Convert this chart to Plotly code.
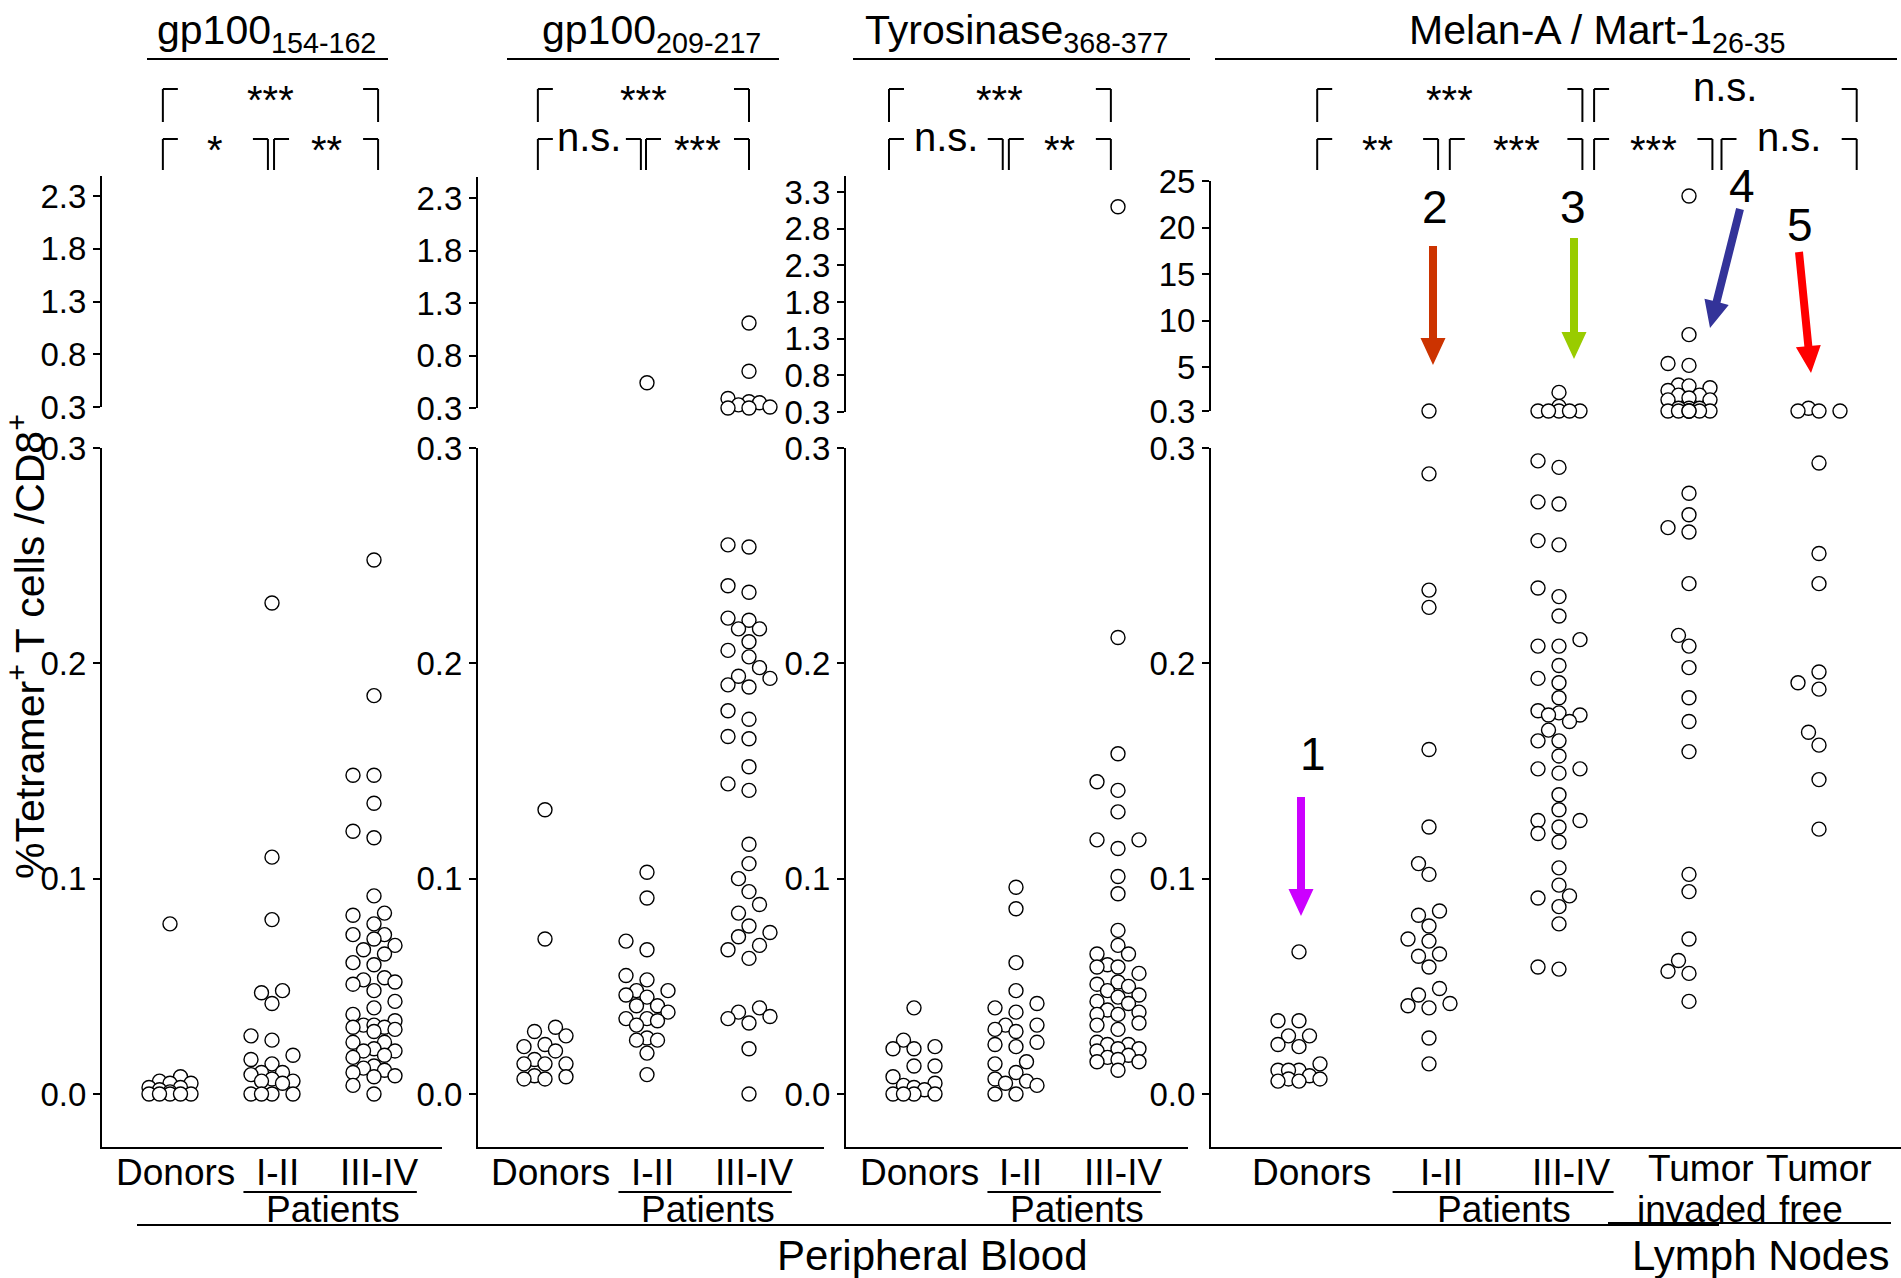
import math
import plotly.graph_objects as go

W, H = 1901, 1278
FONT = "Liberation Sans, Arial, sans-serif"

# ---------------- data (percent tetramer+ of CD8+) ----------------
pb_categories = ["Donors", "I-II", "III-IV"]
ln_categories = ["Donors", "I-II", "III-IV", "Tumor", "Tumor"]
ln_categories_2 = ["", "", "", "invaded", "free"]

# gp100 154-162
gp154_donors_low = [0.079, 0.008, 0.006, 0.005, 0.005, 0.003, 0.003, 0.002, 0.001, 0.0, 0.0, 0.0, 0.0, 0.0]
gp154_i_ii_low = [0.228, 0.110, 0.081, 0.048, 0.047, 0.042, 0.027, 0.025, 0.018, 0.016, 0.014, 0.010,
                  0.010, 0.009, 0.007, 0.006, 0.006, 0.005, 0.0, 0.0, 0.0, 0.0]
gp154_iii_iv_low = [0.248, 0.185, 0.148, 0.148, 0.135, 0.122, 0.119, 0.092, 0.084, 0.083, 0.079, 0.074,
                    0.074, 0.072, 0.069, 0.067, 0.065, 0.061, 0.060, 0.054, 0.053, 0.052, 0.051, 0.048,
                    0.043, 0.040, 0.037, 0.034, 0.032, 0.032, 0.031, 0.031, 0.030, 0.029, 0.024, 0.024,
                    0.021, 0.020, 0.020, 0.018, 0.017, 0.013, 0.012, 0.011, 0.010, 0.0085, 0.008, 0.004, 0.0]

# gp100 209-217
gp209_donors_low = [0.132, 0.072, 0.031, 0.029, 0.027, 0.023, 0.022, 0.020, 0.016, 0.014, 0.014, 0.014,
                    0.0085, 0.008, 0.007, 0.007]
gp209_i_ii_low = [0.103, 0.091, 0.071, 0.067, 0.055, 0.053, 0.048, 0.048, 0.046, 0.045, 0.041, 0.041,
                  0.038, 0.035, 0.035, 0.034, 0.032, 0.026, 0.025, 0.025, 0.019, 0.009]
gp209_i_ii_high = [0.54]
gp209_iii_iv_low = [0.255, 0.254, 0.236, 0.233, 0.221, 0.220, 0.216, 0.216, 0.210, 0.206, 0.203, 0.198,
                    0.194, 0.193, 0.190, 0.189, 0.178, 0.174, 0.166, 0.165, 0.152, 0.144, 0.141, 0.116,
                    0.107, 0.100, 0.094, 0.088, 0.084, 0.078, 0.075, 0.073, 0.069, 0.067, 0.063, 0.040,
                    0.038, 0.036, 0.035, 0.033, 0.021, 0.0]
gp209_iii_iv_high = [1.11, 0.65, 0.39, 0.36, 0.35, 0.33, 0.31, 0.30, 0.30]

# Tyrosinase 368-377
tyr_donors_low = [0.040, 0.025, 0.022, 0.021, 0.021, 0.013, 0.013, 0.008, 0.005, 0.004, 0.003, 0.002,
                  0.0, 0.0, 0.0, 0.0]
tyr_i_ii_low = [0.096, 0.086, 0.061, 0.048, 0.042, 0.040, 0.038, 0.032, 0.032, 0.030, 0.029, 0.024,
                0.023, 0.022, 0.015, 0.014, 0.010, 0.007, 0.006, 0.005, 0.004, 0.0, 0.0]
tyr_iii_iv_low = [0.212, 0.158, 0.145, 0.141, 0.131, 0.118, 0.118, 0.114, 0.101, 0.093, 0.076, 0.069,
                  0.065, 0.065, 0.060, 0.059, 0.059, 0.056, 0.052, 0.051, 0.050, 0.048, 0.046, 0.045,
                  0.043, 0.042, 0.039, 0.038, 0.037, 0.037, 0.033, 0.032, 0.030, 0.024, 0.023, 0.023,
                  0.021, 0.021, 0.020, 0.018, 0.017, 0.016, 0.015, 0.015, 0.011]
tyr_iii_iv_high = [3.10]

# Melan-A / Mart-1 26-35
mel_donors_low = [0.066, 0.034, 0.034, 0.027, 0.027, 0.023, 0.022, 0.014, 0.011, 0.011, 0.011, 0.0085,
                  0.007, 0.007, 0.006, 0.006]
mel_i_ii_low = [0.288, 0.234, 0.226, 0.160, 0.124, 0.107, 0.102, 0.085, 0.083, 0.078, 0.072, 0.071,
                0.065, 0.064, 0.059, 0.049, 0.046, 0.042, 0.041, 0.040, 0.026, 0.014]
mel_i_ii_high = [0.3]
mel_iii_iv_low = [0.294, 0.291, 0.275, 0.274, 0.257, 0.255, 0.235, 0.231, 0.222, 0.211, 0.208, 0.208,
                  0.199, 0.193, 0.191, 0.184, 0.178, 0.177, 0.176, 0.176, 0.173, 0.169, 0.164, 0.164,
                  0.157, 0.151, 0.151, 0.149, 0.139, 0.132, 0.127, 0.127, 0.124, 0.121, 0.117, 0.105,
                  0.097, 0.092, 0.091, 0.087, 0.079, 0.059, 0.058]
mel_iii_iv_high = [2.3, 0.8, 0.3, 0.3, 0.3, 0.3, 0.3]
mel_ln_invaded_low = [0.279, 0.269, 0.263, 0.261, 0.237, 0.213, 0.208, 0.198, 0.184, 0.173, 0.159,
                      0.102, 0.094, 0.072, 0.062, 0.057, 0.056, 0.043]
mel_ln_invaded_high = [23.4, 8.5, 5.4, 5.2, 3.1, 3.0, 2.8, 2.5, 2.0, 2.0, 1.7, 1.5, 1.5, 0.6, 0.6, 0.6,
                       0.3, 0.3, 0.3, 0.3, 0.3, 0.3, 0.3]
mel_ln_free_low = [0.293, 0.251, 0.237, 0.196, 0.191, 0.188, 0.168, 0.162, 0.146, 0.123]
mel_ln_free_high = [0.6, 0.3, 0.3, 0.3]

low_ticks = [0.0, 0.1, 0.2, 0.3]
low_ticktext = ["0.0", "0.1", "0.2", "0.3"]
gp_high_ticks = [0.3, 0.8, 1.3, 1.8, 2.3]
tyr_high_ticks = [0.3, 0.8, 1.3, 1.8, 2.3, 2.8, 3.3]
mel_high_ticks = [0.3, 5, 10, 15, 20, 25]
mel_high_ticktext = ["0.3", "5", "10", "15", "20", "25"]

# ---------------- layout geometry (pixels) ----------------
LOW_TOP, LOW_ZERO, LOW_BOTTOM = 448, 1094, 1147
LOW_K = (LOW_ZERO - LOW_TOP) / 0.3

panels = [
    dict(title="gp100<sub>154-162</sub>", title_x=266, tline=(147, 388),
         axis=102, right=442, cat0=170, S=102,
         up0=407, upk=105.5, uptop=176,
         uticks=gp_high_ticks, utext=[f"{v:.1f}" for v in gp_high_ticks],
         cats=pb_categories, cats2=None,
         groups=[(gp154_donors_low, []), (gp154_i_ii_low, []), (gp154_iii_iv_low, [])],
         brackets=[(-0.07, 2.04, 0, "***"), (-0.07, 0.96, 1, "*"), (1.02, 2.04, 1, "**")]),
    dict(title="gp100<sub>209-217</sub>", title_x=651, tline=(507, 779),
         axis=478, right=824, cat0=545, S=102,
         up0=408, upk=105.0, uptop=177,
         uticks=gp_high_ticks, utext=[f"{v:.1f}" for v in gp_high_ticks],
         cats=pb_categories, cats2=None,
         groups=[(gp209_donors_low, []), (gp209_i_ii_low, gp209_i_ii_high),
                 (gp209_iii_iv_low, gp209_iii_iv_high)],
         brackets=[(-0.07, 2.0, 0, "***"), (-0.07, 0.94, 1, "n.s."), (0.99, 2.0, 1, "***")]),
    dict(title="Tyrosinase<sub>368-377</sub>", title_x=1017, tline=(853, 1190),
         axis=846, right=1188, cat0=914, S=102,
         up0=412, upk=73.3, uptop=176,
         uticks=tyr_high_ticks, utext=[f"{v:.1f}" for v in tyr_high_ticks],
         cats=pb_categories, cats2=None,
         groups=[(tyr_donors_low, []), (tyr_i_ii_low, []), (tyr_iii_iv_low, tyr_iii_iv_high)],
         brackets=[(-0.245, 1.93, 0, "***"), (-0.245, 0.87, 1, "n.s."), (0.93, 1.93, 1, "**")]),
    dict(title="Melan-A / Mart-1<sub>26-35</sub>", title_x=1597, tline=(1215, 1897),
         axis=1211, right=1901, cat0=1299, S=130,
         up0=411, upk=9.31, uptop=181,
         uticks=mel_high_ticks, utext=mel_high_ticktext,
         cats=ln_categories, cats2=ln_categories_2,
         groups=[(mel_donors_low, []), (mel_i_ii_low, mel_i_ii_high), (mel_iii_iv_low, mel_iii_iv_high),
                 (mel_ln_invaded_low, mel_ln_invaded_high), (mel_ln_free_low, mel_ln_free_high)],
         brackets=[(0.14, 2.18, 0, "***"), (2.27, 4.29, 0, "n.s."),
                   (0.14, 1.07, 1, "**"), (1.16, 2.18, 1, "***"),
                   (2.27, 3.18, 1, "***"), (3.25, 4.29, 1, "n.s.")]),
]


def fx(x):
    return x / W


def fy(y):
    return 1 - y / H


def swarm(values, ypx_per_unit, D=14.5, step=10.5, maxk=2):
    """Greedy beeswarm: returns horizontal pixel offsets."""
    order = sorted(range(len(values)), key=lambda i: values[i])
    cands = [0.0]
    for k in range(1, maxk + 1):
        cands += [-k * step, k * step]
    placed = []
    offs = [0.0] * len(values)
    for i in order:
        yv = values[i] * ypx_per_unit
        best, bestd = 0.0, -1
        for c in cands:
            dmin = min((math.hypot(c - a, yv - b) for a, b in placed), default=1e9)
            if dmin >= 0.95 * D:
                best = c
                break
            if dmin > bestd:
                bestd, best = dmin, c
        placed.append((best, yv))
        offs[i] = best
    return offs


fig = go.Figure()
shapes = []
annotations = []
layout_axes = {}
marker = dict(symbol="circle", size=14, color="white", line=dict(color="black", width=1.4))
axis_line = dict(showline=True, linecolor="black", linewidth=2, showgrid=False, zeroline=False,
                 fixedrange=True, automargin=False)
TICKFONT = dict(family=FONT, size=33, color="black")

for p, cfg in enumerate(panels):
    lo, up = 2 * p + 1, 2 * p + 2
    xl = "x" if lo == 1 else f"x{lo}"
    yl = "y" if lo == 1 else f"y{lo}"
    xu, yu = f"x{up}", f"y{up}"
    S, cat0 = cfg["S"], cfg["cat0"]
    xr = [(cfg["axis"] - cat0) / S, (cfg["right"] - cat0) / S]
    xdom = [fx(cfg["axis"]), fx(cfg["right"])]
    low_range = [-(LOW_BOTTOM - LOW_ZERO) / LOW_K, 0.3]
    up_range = [0.3, 0.3 + (cfg["up0"] - cfg["uptop"]) / cfg["upk"]]

    has_high = False
    for ci, (lowv, highv) in enumerate(cfg["groups"]):
        if lowv:
            offs = swarm(lowv, LOW_K)
            fig.add_trace(go.Scatter(x=[ci + o / S for o in offs], y=lowv, mode="markers",
                                     marker=marker, xaxis=xl, yaxis=yl, cliponaxis=False,
                                     showlegend=False, hoverinfo="y"))
        if highv:
            has_high = True
            offs = swarm(highv, cfg["upk"])
            fig.add_trace(go.Scatter(x=[ci + o / S for o in offs], y=highv, mode="markers",
                                     marker=marker, xaxis=xu, yaxis=yu, cliponaxis=False,
                                     showlegend=False, hoverinfo="y"))
    if not has_high:
        # empty trace so that the (empty) upper axis is still drawn
        fig.add_trace(go.Scatter(x=[None], y=[None], mode="markers", xaxis=xu, yaxis=yu,
                                 showlegend=False, hoverinfo="skip"))

    kx = "xaxis" if lo == 1 else f"xaxis{lo}"
    ky = "yaxis" if lo == 1 else f"yaxis{lo}"
    layout_axes[kx] = dict(axis_line, domain=xdom, range=xr, anchor=yl, showticklabels=False, ticks="")
    layout_axes[ky] = dict(axis_line, domain=[fy(LOW_BOTTOM), fy(LOW_TOP)], range=low_range, anchor=xl,
                           ticks="outside", ticklen=7, tickwidth=2, tickcolor="black",
                           tickvals=low_ticks, ticktext=low_ticktext, tickfont=TICKFONT)
    layout_axes[f"xaxis{up}"] = dict(domain=xdom, range=xr, anchor=yu, visible=False, fixedrange=True,
                                     automargin=False)
    layout_axes[f"yaxis{up}"] = dict(axis_line, domain=[fy(cfg["up0"]), fy(cfg["uptop"])], range=up_range,
                                     anchor=xu, ticks="outside", ticklen=7, tickwidth=2, tickcolor="black",
                                     tickvals=cfg["uticks"], ticktext=cfg["utext"], tickfont=TICKFONT)

    def cpx(c, S=S, cat0=cat0):
        return cat0 + c * S

    # panel title + underline
    annotations.append(dict(text=cfg["title"], x=fx(cfg["title_x"]), y=fy(33), xref="paper", yref="paper",
                            showarrow=False, xanchor="center", yanchor="middle",
                            font=dict(family=FONT, size=41, color="black")))
    shapes.append(dict(type="line", xref="paper", yref="paper", x0=fx(cfg["tline"][0]),
                       x1=fx(cfg["tline"][1]), y0=fy(59), y1=fy(59), line=dict(color="black", width=2)))

    # significance brackets
    for c0, c1, lvl, lab in cfg["brackets"]:
        x0, x1 = cpx(c0), cpx(c1)
        ytop = 89 if lvl == 0 else 139
        ybot = 122 if lvl == 0 else 170
        stub = 15
        for xa, xb in ((x0, x0 + stub), (x1 - stub, x1)):
            shapes.append(dict(type="line", xref="paper", yref="paper", x0=fx(xa), x1=fx(xb),
                               y0=fy(ytop), y1=fy(ytop), line=dict(color="black", width=2)))
        for xv in (x0, x1):
            shapes.append(dict(type="line", xref="paper", yref="paper", x0=fx(xv), x1=fx(xv),
                               y0=fy(ytop), y1=fy(ybot), line=dict(color="black", width=2)))
        ylab = ytop + 11 if "*" in lab else ytop - 2
        annotations.append(dict(text=lab, x=fx((x0 + x1) / 2), y=fy(ylab), xref="paper", yref="paper",
                                showarrow=False, xanchor="center", yanchor="middle",
                                font=dict(family=FONT, size=40, color="black")))

    # category labels
    lshift = 5 if p < 3 else 12
    for ci, name in enumerate(cfg["cats"]):
        yv = 1168 if name == "Tumor" else 1172
        xs = cpx(ci) + lshift if name != "Tumor" else cpx(ci) + (12 if ci == 3 else 0)
        annotations.append(dict(text=name, x=fx(xs), y=fy(yv), xref="paper", yref="paper",
                                showarrow=False, xanchor="center", yanchor="middle",
                                font=dict(family=FONT, size=37, color="black")))
    if cfg["cats2"]:
        for ci, name in enumerate(cfg["cats2"]):
            if name:
                xs = cpx(ci) + (13 if ci == 3 else -8)
                annotations.append(dict(text=name, x=fx(xs), y=fy(1209), xref="paper", yref="paper",
                                        showarrow=False, xanchor="center", yanchor="middle",
                                        font=dict(family=FONT, size=37, color="black")))
    # Patients group label
    annotations.append(dict(text="Patients", x=fx((cpx(1) + cpx(2)) / 2 + 10), y=fy(1209), xref="paper",
                            yref="paper", showarrow=False, xanchor="center", yanchor="middle",
                            font=dict(family=FONT, size=37, color="black")))
    shapes.append(dict(type="line", xref="paper", yref="paper", x0=fx(cpx(1) - 0.28 * S),
                       x1=fx(cpx(2) + 0.42 * S), y0=fy(1192), y1=fy(1192),
                       line=dict(color="black", width=2)))

# bottom group lines and labels
shapes.append(dict(type="line", xref="paper", yref="paper", x0=fx(137), x1=fx(1719), y0=fy(1225),
                   y1=fy(1225), line=dict(color="black", width=2)))
shapes.append(dict(type="line", xref="paper", yref="paper", x0=fx(1608), x1=fx(1891), y0=fy(1223),
                   y1=fy(1223), line=dict(color="black", width=2)))
annotations.append(dict(text="Peripheral Blood", x=fx(932), y=fy(1255), xref="paper", yref="paper",
                        showarrow=False, xanchor="center", yanchor="middle",
                        font=dict(family=FONT, size=42, color="black")))
annotations.append(dict(text="Lymph Nodes", x=fx(1761), y=fy(1255), xref="paper", yref="paper",
                        showarrow=False, xanchor="center", yanchor="middle",
                        font=dict(family=FONT, size=42, color="black")))

# y-axis title
annotations.append(dict(text="%Tetramer<sup>+</sup> T cells /CD8<sup>+</sup>", x=fx(27), y=fy(647),
                        xref="paper", yref="paper", showarrow=False, textangle=-90,
                        xanchor="center", yanchor="middle",
                        font=dict(family=FONT, size=41, color="black")))

# coloured numbered arrows
arrows = [
    ("1", "#CC00FF", (1301, 797), (1301, 916), (1313, 754)),
    ("2", "#CC3300", (1433, 246), (1433, 365), (1435, 207)),
    ("3", "#99CC00", (1574, 238), (1574, 359), (1573, 207)),
    ("4", "#333399", (1740, 209), (1710, 328), (1742, 186)),
    ("5", "#FF0000", (1799, 252), (1811, 373), (1800, 225)),
]


def arrow_path(x0, y0, x1, y1, sw=8, hw=25, hl=27):
    dx, dy = x1 - x0, y1 - y0
    L = math.hypot(dx, dy)
    ux, uy = dx / L, dy / L
    nx, ny = -uy, ux
    bx, by = x1 - ux * hl, y1 - uy * hl
    pts = [(x0 + nx * sw / 2, y0 + ny * sw / 2), (bx + nx * sw / 2, by + ny * sw / 2),
           (bx + nx * hw / 2, by + ny * hw / 2), (x1, y1),
           (bx - nx * hw / 2, by - ny * hw / 2), (bx - nx * sw / 2, by - ny * sw / 2),
           (x0 - nx * sw / 2, y0 - ny * sw / 2)]
    return "M " + " L ".join(f"{fx(a):.5f},{fy(b):.5f}" for a, b in pts) + " Z"


for lab, col, s, t, lp in arrows:
    shapes.append(dict(type="path", xref="paper", yref="paper", path=arrow_path(*s, *t),
                       fillcolor=col, line=dict(width=0)))
    annotations.append(dict(text=lab, x=fx(lp[0]), y=fy(lp[1]), xref="paper", yref="paper",
                            showarrow=False, xanchor="center", yanchor="middle",
                            font=dict(family=FONT, size=46, color="black")))

fig.update_layout(
    width=W, height=H, autosize=False,
    margin=dict(l=0, r=0, t=0, b=0, pad=0, autoexpand=False),
    paper_bgcolor="white", plot_bgcolor="rgba(0,0,0,0)",
    showlegend=False, shapes=shapes, annotations=annotations,
    font=dict(family=FONT, color="black"),
    **layout_axes,
)

fig.write_html("out.html", config={"displayModeBar": False, "responsive": False},
               post_script="document.body.style.margin='0';")
